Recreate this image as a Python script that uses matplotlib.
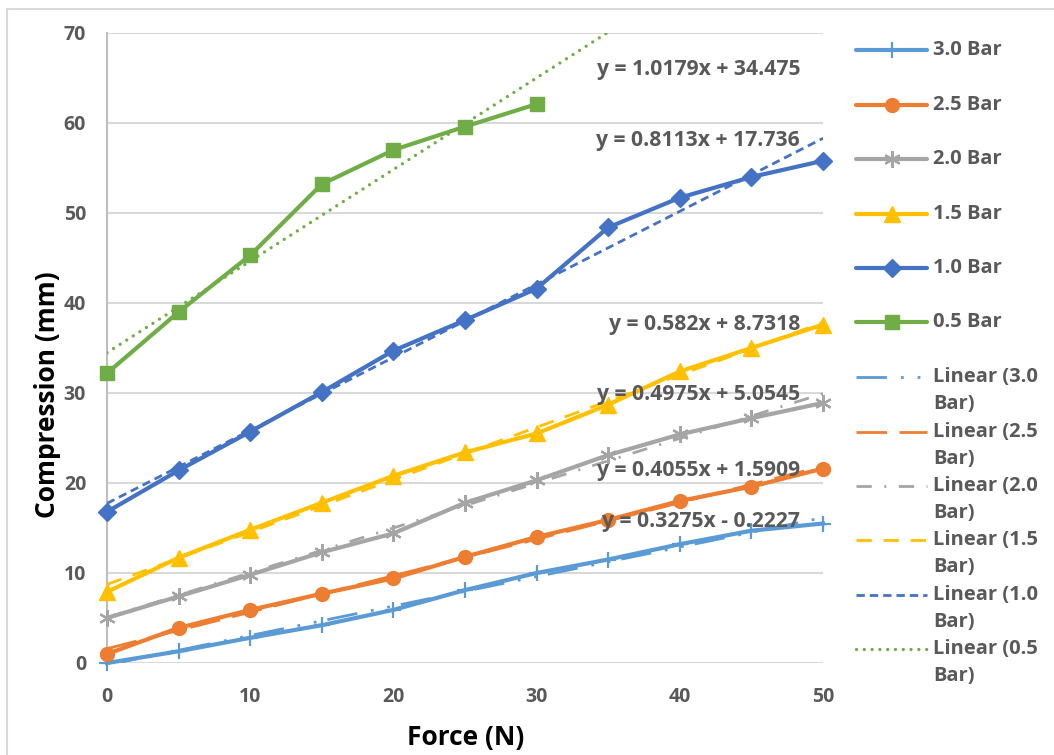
import numpy as np
import matplotlib
matplotlib.use("Agg")
import matplotlib.pyplot as plt
from matplotlib.lines import Line2D
from matplotlib.patches import Rectangle

plt.rcParams["font.family"] = ["Open Sans", "DejaVu Sans"]
plt.rcParams["lines.scale_dashes"] = False

# ---- data ----
force = [0, 5, 10, 15, 20, 25, 30, 35, 40, 45, 50]
force_05 = [0, 5, 10, 15, 20, 25, 30]

bar_30 = [0.0, 1.3, 2.8, 4.2, 5.9, 8.1, 10.0, 11.5, 13.2, 14.7, 15.5]
bar_25 = [1.0, 3.9, 5.9, 7.7, 9.4, 11.8, 14.0, 15.9, 18.0, 19.6, 21.6]
bar_20 = [5.0, 7.4, 9.8, 12.3, 14.4, 17.8, 20.3, 23.1, 25.4, 27.2, 28.9]
bar_15 = [7.9, 11.7, 14.8, 17.8, 20.8, 23.4, 25.5, 28.7, 32.4, 35.0, 37.6]
bar_10 = [16.8, 21.4, 25.7, 30.1, 34.7, 38.1, 41.6, 48.4, 51.7, 54.0, 55.8]
bar_05 = [32.2, 39.0, 45.3, 53.2, 57.0, 59.6, 62.1]

series_names = ["3.0 Bar", "2.5 Bar", "2.0 Bar", "1.5 Bar", "1.0 Bar", "0.5 Bar"]

# linear trend coefficients (slope, intercept)
slopes = [0.3275, 0.4055, 0.4975, 0.582, 0.8113, 1.0179]
intercepts = [-0.2227, 1.5909, 5.0545, 8.7318, 17.736, 34.475]
equations = ["y = 0.3275x - 0.2227", "y = 0.4055x + 1.5909", "y = 0.4975x + 5.0545",
             "y = 0.582x + 8.7318", "y = 0.8113x + 17.736", "y = 1.0179x + 34.475"]

y_ticks = [0, 10, 20, 30, 40, 50, 60, 70]
x_ticks = [0, 10, 20, 30, 40, 50]

# ---- styles ----
colors = ["#5B9BD5", "#ED7D31", "#A5A5A5", "#FFC000", "#4472C4", "#70AD47"]
markers = ["+", "o", (6, 2, 0), "^", "D", "s"]
msizes = [11, 10, 12, 11, 9, 10]
mews = [1.6, 1, 1.6, 1, 1, 1]
trend_dashes = [(22, 10, 2, 10, 2, 8), (22, 9), (11, 9, 1.5, 9), (11, 8.5), (6, 3.6), (0.01, 5.6)]
eq_pos = [(48.4, 15.7), (48.4, 21.4), (48.4, 29.8), (48.4, 37.6), (48.4, 58.1), (48.4, 65.9)]
text_col = "#595959"
fs_small = 14.5

W, H = 1054, 755
fig = plt.figure(figsize=(W / 100, H / 100), dpi=100)

# chart area border
fig.add_artist(Rectangle((7 / W, -0.05), 1.2, 1 - 9 / H + 0.05, transform=fig.transFigure,
                         fill=False, edgecolor="#D9D9D9", lw=1.5))

ax = fig.add_axes([107 / W, (H - 663) / H, (823 - 107) / W, (663 - 33) / H])

xs_all = [force, force, force, force, force, force_05]
ys_all = [bar_30, bar_25, bar_20, bar_15, bar_10, bar_05]

for i in range(6):
    ax.plot(xs_all[i], ys_all[i], color=colors[i], lw=3.0, marker=markers[i],
            ms=msizes[i], mew=mews[i], mfc=colors[i], mec=colors[i],
            clip_on=False, zorder=3 + i * 0.1, solid_joinstyle="round")

xt = np.array([0, 50])
for i in range(6):
    ln, = ax.plot(xt, slopes[i] * xt + intercepts[i], color=colors[i], lw=2.0,
                  zorder=4 + i * 0.1)
    ln.set_dashes(trend_dashes[i])
    if i == 5:
        ln.set_dash_capstyle("round")
        ln.set_linewidth(2.4)

for i in range(6):
    ax.text(eq_pos[i][0], eq_pos[i][1], equations[i], ha="right", va="center",
            fontsize=15.2, fontweight="bold", color=text_col, zorder=6)

ax.set_xlim(0, 50)
ax.set_ylim(0, 70)
ax.set_yticks(y_ticks)
ax.set_xticks(x_ticks)
ax.grid(axis="y", color="#D9D9D9", lw=1.5, zorder=0)
ax.set_axisbelow(True)
for s in ["top", "right", "bottom"]:
    ax.spines[s].set_visible(False)
ax.spines["left"].set_color("#BFBFBF")
ax.spines["left"].set_linewidth(1.5)
ax.tick_params(length=0, labelsize=fs_small - 0.5, labelcolor=text_col)
ax.tick_params(axis="y", pad=15)
ax.tick_params(axis="x", pad=17)
for lab in ax.get_xticklabels() + ax.get_yticklabels():
    lab.set_fontweight("bold")

fig.text(466 / W, 1 - 738 / H, "Force (N)", fontsize=19, fontweight="bold",
         color="black", ha="center", va="center")
fig.text(48 / W, 1 - 395 / H, "Compression (mm)", fontsize=19, fontweight="bold",
         color="black", ha="center", va="center", rotation=90)

# ---- legend ----
leg_y = [50, 105, 159, 214, 268, 322, 377, 432, 486, 540, 595, 649]
x0, x1, xtxt = 856, 927, 933
for k in range(12):
    yf = 1 - leg_y[k] / H
    if k < 6:
        i = k
        fig.add_artist(Line2D([x0 / W, x1 / W], [yf, yf], color=colors[i], lw=3.0,
                              solid_capstyle="round"))
        fig.add_artist(Line2D([(x0 + x1) / 2 / W], [yf], color=colors[i], marker=markers[i],
                              ms=msizes[i], mew=mews[i], mfc=colors[i], mec=colors[i]))
        fig.text(xtxt / W, yf, series_names[i], fontsize=fs_small, fontweight="bold",
                 color=text_col, va="center", ha="left")
    else:
        i = k - 6
        ln = Line2D([x0 / W, x1 / W], [yf, yf], color=colors[i], lw=2.0)
        ln.set_dashes(trend_dashes[i])
        if i == 5:
            ln.set_dash_capstyle("round")
            ln.set_linewidth(2.4)
        fig.add_artist(ln)
        name = series_names[i].split(" ")
        fig.text(xtxt / W, yf, "Linear (" + name[0], fontsize=fs_small, fontweight="bold",
                 color=text_col, va="center", ha="left")
        fig.text(xtxt / W, 1 - (leg_y[k] + 27) / H, name[1] + ")", fontsize=fs_small,
                 fontweight="bold", color=text_col, va="center", ha="left")

fig.savefig("out.png", dpi=100)
